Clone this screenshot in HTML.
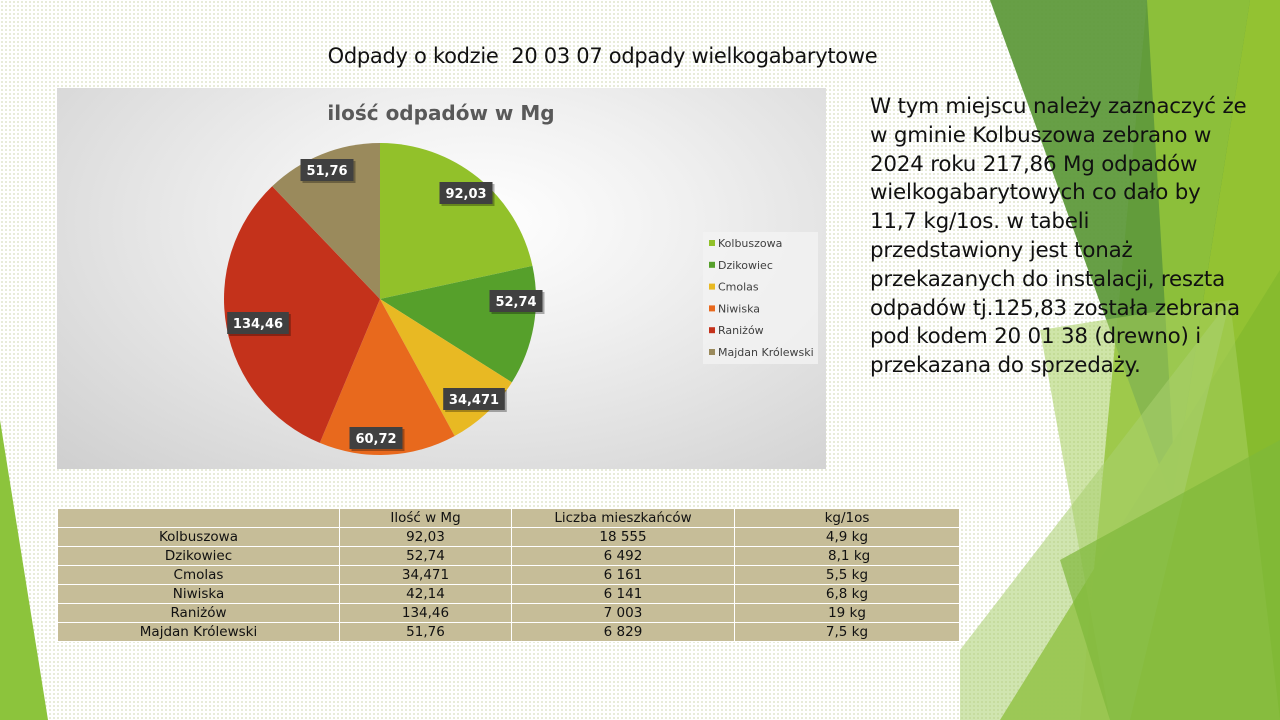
<!DOCTYPE html>
<html><head><meta charset="utf-8"><style>
body{margin:0;width:1280px;height:720px;overflow:hidden;position:relative;background:#fff;font-family:"DejaVu Sans","Liberation Sans",sans-serif;}
.dots{position:absolute;inset:0;background-image:radial-gradient(#c9d3a8 0.6px,transparent 0.9px);background-size:4px 4px;}
svg{position:absolute;left:0;top:0}
.title{position:absolute;left:0;width:1205px;text-align:center;top:44px;font-size:21px;color:#111;letter-spacing:-0.3px;}
.txt{position:absolute;left:870px;top:93px;font-size:21.4px;line-height:28.8px;color:#111;white-space:pre;letter-spacing:-0.2px}
.chart{position:absolute;left:57px;top:88px;width:769px;height:381px;background:radial-gradient(ellipse at 55% 35%,#ffffff 0%,#f0f0f0 35%,#cfcfcf 100%);}
table{position:absolute;left:57px;top:508px;width:903px;border-collapse:collapse;font-size:13.5px;color:#111}
td{background:#c6bd98;border:1.5px solid #fff;text-align:center;height:18px;padding:0;line-height:18px}
</style></head><body>
<div class="dots"></div>
<svg width="1280" height="720">
<polygon points="0,420 48,720 0,720" fill="#8cc43c"/>
<polygon points="1147,0 1280,0 1280,720 1080,720" fill="#93c232"/>
<polygon points="990,0 1147,0 1250,0 1172,500 1110,330" fill="#5f9a3c" opacity="0.95"/>
<polygon points="1147,0 1250,0 1175,480" fill="#8cbf3a"/>
<polygon points="1000,720 1280,270 1280,720" fill="#86bb2e" opacity="0.95"/>
<polygon points="1040,330 1230,300 1280,720 1110,720" fill="#a8d060" opacity="0.55"/>
<polygon points="960,650 1230,300 1130,720 960,720" fill="#a9cf70" opacity="0.55"/>
<polygon points="1060,560 1280,440 1280,720 1110,720" fill="#7fb83a" opacity="0.7"/>
</svg>
<div class="title">Odpady o kodzie&nbsp; 20 03 07 odpady wielkogabarytowe</div>
<div class="txt">W tym miejscu należy zaznaczyć że
w gminie Kolbuszowa zebrano w
2024 roku 217,86 Mg odpadów
wielkogabarytowych co dało by
11,7 kg/1os. w tabeli
przedstawiony jest tonaż
przekazanych do instalacji, reszta
odpadów tj.125,83 została zebrana
pod kodem 20 01 38 (drewno) i
przekazana do sprzedaży.</div>
<div class="chart"></div>
<svg id="pie" width="1280" height="720"></svg>
<table>
<tr><td style="width:281px"></td><td style="width:171px">Ilość w Mg</td><td style="width:222px">Liczba mieszkańców</td><td>kg/1os</td></tr>
<tr><td>Kolbuszowa</td><td>92,03</td><td>18 555</td><td>4,9 kg</td></tr>
<tr><td>Dzikowiec</td><td>52,74</td><td>6 492</td><td>&nbsp;8,1 kg</td></tr>
<tr><td>Cmolas</td><td>34,471</td><td>6 161</td><td>5,5 kg</td></tr>
<tr><td>Niwiska</td><td>42,14</td><td>6 141</td><td>6,8 kg</td></tr>
<tr><td>Raniżów</td><td>134,46</td><td>7 003</td><td>19 kg</td></tr>
<tr><td>Majdan Królewski</td><td>51,76</td><td>6 829</td><td>7,5 kg</td></tr>
</table>
<script>
var v=[92.03,52.74,34.471,60.72,134.46,51.76];
var c=["#92c12a","#56a02b","#e8b923","#e8691d","#c4321b","#9a8a5c"];
var lab=["92,03","52,74","34,471","60,72","134,46","51,76"];
var names=["Kolbuszowa","Dzikowiec","Cmolas","Niwiska","Raniżów","Majdan Królewski"];
var lp=[[466,193],[516,301],[474,399],[376,438],[258,323],[327,170]];
var cx=380,cy=299,r=156,s=0,t=v.reduce((a,b)=>a+b),h='';
h+='<text x="441" y="120" text-anchor="middle" font-size="20" font-weight="bold" fill="#595959" font-family="DejaVu Sans,sans-serif">ilość odpadów w Mg</text>';
for(var i=0;i<6;i++){var a0=s/t*2*Math.PI-Math.PI/2;s+=v[i];var a1=s/t*2*Math.PI-Math.PI/2;
h+='<path d="M'+cx+','+cy+' L'+(cx+r*Math.cos(a0))+','+(cy+r*Math.sin(a0))+' A'+r+','+r+' 0 '+(a1-a0>Math.PI?1:0)+' 1 '+(cx+r*Math.cos(a1))+','+(cy+r*Math.sin(a1))+' Z" fill="'+c[i]+'"/>';}
for(var i=0;i<6;i++){var w=lab[i].length*8.6+10;var x=lp[i][0],y=lp[i][1];
h+='<rect x="'+(x-w/2+2)+'" y="'+(y-11+2)+'" width="'+w+'" height="22" fill="#000" opacity="0.3"/>';
h+='<rect x="'+(x-w/2)+'" y="'+(y-11)+'" width="'+w+'" height="22" fill="#404040"/>';
h+='<text x="'+x+'" y="'+(y+5)+'" text-anchor="middle" font-size="13" font-weight="bold" fill="#fff" font-family="DejaVu Sans,sans-serif">'+lab[i]+'</text>';}
h+='<rect x="703" y="232" width="115" height="132" fill="#f2f2f2" opacity="0.8"/>';
for(var i=0;i<6;i++){var y=243+i*21.8;
h+='<rect x="709" y="'+(y-3)+'" width="6" height="6" fill="'+c[i]+'"/>';
h+='<text x="718" y="'+(y+4)+'" font-size="11" fill="#404040" font-family="DejaVu Sans,sans-serif">'+names[i]+'</text>';}
document.getElementById('pie').innerHTML=h;
</script>
</body></html>
